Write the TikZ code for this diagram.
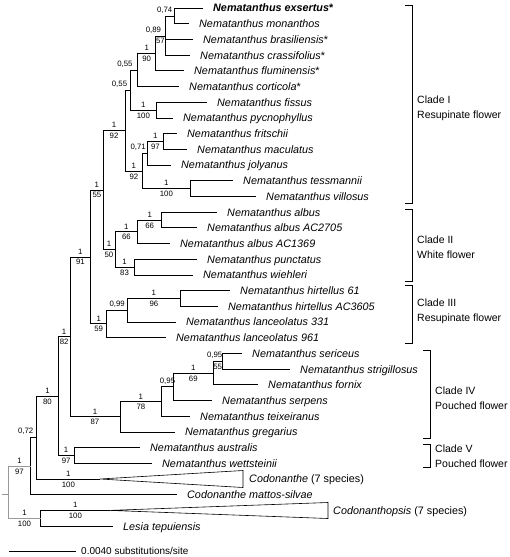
\documentclass[tikz,border=0pt]{standalone}
\usepackage{fontspec}
\setmainfont{Liberation Sans}
\usetikzlibrary{positioning}

\begin{document}
\begin{tikzpicture}[x=1pt, y=-1pt,
  br/.style={line width=0.8pt},
  rootbr/.style={line width=0.8pt, draw=black!40},
  tri/.style={line width=0.6pt},
  brk/.style={line width=0.7pt},
  taxon/.style={anchor=west, inner xsep=10pt, inner ysep=0pt, text height=7.8pt, text depth=0pt, font=\fontsize{10.8}{13}\selectfont\itshape},
  pp/.style={pos=0.75, above, inner sep=2.2pt, font=\fontsize{7.8}{8}\selectfont},
  bs/.style={pos=0.75, below, inner sep=2.2pt, font=\fontsize{7.8}{8}\selectfont},
  clade/.style={anchor=west, align=left, inner sep=0pt, font=\fontsize{10.5}{15}\selectfont}]

  \useasboundingbox (0,0) rectangle (510,557);

  \node[taxon] (exs) at (203,8.0) {\bfseries Nematanthus exsertus\textup{*}};
  \node[taxon] (mon) at (189,23.7) {Nematanthus monanthos};
  \node[taxon] (bra) at (193,39.4) {Nematanthus brasiliensis\textup{*}};
  \node[taxon] (cra) at (190,55.1) {Nematanthus crassifolius\textup{*}};
  \node[taxon] (flu) at (184,70.8) {Nematanthus fluminensis\textup{*}};
  \node[taxon] (cor) at (179,86.5) {Nematanthus corticola\textup{*}};
  \node[taxon] (fis) at (207,102.2) {Nematanthus fissus};
  \node[taxon] (pyc) at (173,117.9) {Nematanthus pycnophyllus};
  \node[taxon] (fri) at (177,133.6) {Nematanthus fritschii};
  \node[taxon] (mac) at (187,149.3) {Nematanthus maculatus};
  \node[taxon] (jol) at (171,165.0) {Nematanthus jolyanus};
  \node[taxon] (tes) at (233,180.7) {Nematanthus tessmannii};
  \node[taxon] (vil) at (256,196.4) {Nematanthus villosus};
  \node[taxon] (alb) at (217,212.1) {Nematanthus albus};
  \node[taxon] (albB) at (197,227.8) {Nematanthus albus AC2705};
  \node[taxon] (albC) at (170,243.5) {Nematanthus albus AC1369};
  \node[taxon] (pun) at (197,259.2) {Nematanthus punctatus};
  \node[taxon] (wie) at (193,274.9) {Nematanthus wiehleri};
  \node[taxon] (hirA) at (230,290.6) {Nematanthus hirtellus 61};
  \node[taxon] (hirB) at (218,306.3) {Nematanthus hirtellus AC3605};
  \node[taxon] (lanA) at (176,322.0) {Nematanthus lanceolatus 331};
  \node[taxon] (lanB) at (166,337.7) {Nematanthus lanceolatus 961};
  \node[taxon] (ser) at (242,353.4) {Nematanthus sericeus};
  \node[taxon] (str) at (290,369.1) {Nematanthus strigillosus};
  \node[taxon] (forn) at (258,384.8) {Nematanthus fornix};
  \node[taxon] (serp) at (212,400.5) {Nematanthus serpens};
  \node[taxon] (tei) at (190,416.2) {Nematanthus teixeiranus};
  \node[taxon] (gre) at (175,431.9) {Nematanthus gregarius};
  \node[taxon] (aus) at (140,447.6) {Nematanthus australis};
  \node[taxon] (wet) at (152,463.3) {Nematanthus wettsteinii};
  \node[taxon, inner xsep=6pt] (cod) at (243,479.0) {Codonanthe \textup{(7 species)}};
  \node[taxon] (mat) at (177,494.7) {Codonanthe mattos-silvae};
  \node[taxon, inner xsep=5pt] (cop) at (328,510.4) {Codonanthopsis \textup{(7 species)}};
  \node[taxon] (les) at (113,526.1) {Lesia tepuiensis};

  \coordinate (nA) at (174.3,15.9);
  \coordinate (nB) at (165,36);
  \coordinate (nC) at (155.7,53.5);
  \coordinate (nD) at (137.7,70);
  \coordinate (nE) at (156.7,110);
  \coordinate (nF) at (130,90);
  \coordinate (nG) at (163,141.5);
  \coordinate (nH) at (147.7,153);
  \coordinate (nI) at (190,188.5);
  \coordinate (nJ) at (142.7,171);
  \coordinate (cI) at (125,130.5);
  \coordinate (nK) at (161.7,220);
  \coordinate (nL) at (137.7,231.8);
  \coordinate (nM) at (134,267);
  \coordinate (cII) at (115,249.5);
  \coordinate (nN) at (103,190);
  \coordinate (nO) at (180,298.5);
  \coordinate (nP) at (127.7,310);
  \coordinate (cIII) at (106.7,323.8);
  \coordinate (nQ) at (90.7,256.9);
  \coordinate (nR) at (222,361.2);
  \coordinate (nS) at (213.3,373);
  \coordinate (nT) at (173.3,386.7);
  \coordinate (nU) at (161.7,401.6);
  \coordinate (cIV) at (120,416.8);
  \coordinate (nV) at (70,336.8);
  \coordinate (cV) at (74,455.5);
  \coordinate (nW) at (58.3,396);
  \coordinate (nX) at (36.7,437.5);
  \coordinate (nY) at (30.7,466);
  \coordinate (nZ) at (40.7,518);
  \coordinate (root) at (8.3,494);
  \coordinate (rootL) at (2,494);

  \coordinate (codA) at (100,479.0);
  \coordinate (codT) at (243,470.5);
  \coordinate (codB) at (243,487.5);
  \coordinate (copA) at (110,510.4);
  \coordinate (copT) at (328,502.5);
  \coordinate (copB) at (328,518.5);

  \draw[br] (nA) |- (exs);
  \draw[br] (nA) |- (mon);
  \draw[br] (nB) |- node[pp, xshift=-5pt]{0,74} (nA);
  \draw[br] (nB) |- (bra);
  \draw[br] (nB) |- (cra);
  \draw[br] (nC) |- node[pp, xshift=-7pt]{0,89} node[bs]{57} (nB);
  \draw[br] (nC) |- (flu);
  \draw[br] (nD) |- node[pp]{1} node[bs]{90} (nC);
  \draw[br] (nD) |- (cor);
  \draw[br] (nF) |- node[pp, xshift=-9pt]{0,55} (nD);
  \draw[br] (nE) |- (fis);
  \draw[br] (nE) |- (pyc);
  \draw[br] (nF) |- node[pp]{1} node[bs]{100} (nE);
  \draw[br] (cI) |- node[pp, xshift=-8pt]{0,55} (nF);
  \draw[br] (nG) |- (fri);
  \draw[br] (nG) |- (mac);
  \draw[br] (nH) |- node[pp]{1} node[bs]{97} (nG);
  \draw[br] (nH) |- (jol);
  \draw[br] (nJ) |- node[pp, xshift=-7pt]{0,71} (nH);
  \draw[br] (nI) |- (tes);
  \draw[br] (nI) |- (vil);
  \draw[br] (nJ) |- node[pp]{1} node[bs]{100} (nI);
  \draw[br] (cI) |- node[pp]{1} node[bs]{92} (nJ);

  \draw[br] (nK) |- (alb);
  \draw[br] (nK) |- (albB);
  \draw[br] (nL) |- node[pp]{1} node[bs]{66} (nK);
  \draw[br] (nL) |- (albC);
  \draw[br] (cII) |- node[pp]{1} node[bs]{66} (nL);
  \draw[br] (nM) |- (pun);
  \draw[br] (nM) |- (wie);
  \draw[br] (cII) |- node[pp]{1} node[bs]{83} (nM);
  \draw[br] (nN) |- node[pp]{1} node[bs]{92} (cI);
  \draw[br] (nN) |- node[pp]{1} node[bs]{50} (cII);
  \draw[br] (nQ) |- node[pp]{1} node[bs]{55} (nN);

  \draw[br] (nO) |- (hirA);
  \draw[br] (nO) |- (hirB);
  \draw[br] (nP) |- node[pp]{1} node[bs]{96} (nO);
  \draw[br] (nP) |- (lanA);
  \draw[br] (cIII) |- node[pp]{0,99} (nP);
  \draw[br] (cIII) |- (lanB);
  \draw[br] (nQ) |- node[pp]{1} node[bs]{59} (cIII);
  \draw[br] (nV) |- node[pp]{1} node[bs]{91} (nQ);

  \draw[br] (nR) |- (ser);
  \draw[br] (nR) |- (str);
  \draw[br] (nS) |- node[pp, xshift=-3pt]{0,95} node[bs]{55} (nR);
  \draw[br] (nS) |- (forn);
  \draw[br] (nT) |- node[pp]{1} node[bs]{69} (nS);
  \draw[br] (nT) |- (serp);
  \draw[br] (nU) |- node[pp]{0,95} (nT);
  \draw[br] (nU) |- (tei);
  \draw[br] (cIV) |- node[pp]{1} node[bs]{78} (nU);
  \draw[br] (cIV) |- (gre);
  \draw[br] (nV) |- node[pp]{1} node[bs]{87} (cIV);
  \draw[br] (nW) |- node[pp]{1} node[bs]{82} (nV);

  \draw[br] (cV) |- (aus);
  \draw[br] (cV) |- (wet);
  \draw[br] (nW) |- node[pp]{1} node[bs]{97} (cV);
  \draw[br] (nX) |- node[pp]{1} node[bs]{80} (nW);
  \draw[br] (nX) |- node[pp]{1} node[bs]{100} (codA);
  \draw[tri] (codA) -- (codT) -- (codB) -- cycle;
  \draw[br] (nY) |- node[pp, xshift=-8pt]{0,72} (nX);
  \draw[br] (nY) |- (mat);
  \draw[br] (nZ) |- node[pp]{1} node[bs]{100} (copA);
  \draw[tri] (copA) -- (copT) -- (copB) -- cycle;
  \draw[br] (nZ) |- (les);
  \draw[rootbr] (rootL) -- (root);
  \draw[rootbr] (root) |- node[pp]{1} node[bs]{97} (nY);
  \draw[rootbr] (root) |- node[pp]{1} node[bs]{100} (nZ);

  \coordinate (bIt) at (412,5);
  \coordinate (bIb) at (412,203);
  \coordinate (bIm) at (412,108);
  \coordinate (bIIt) at (412,209);
  \coordinate (bIIb) at (412,281);
  \coordinate (bIIm) at (412,247);
  \coordinate (bIIIt) at (412,285);
  \coordinate (bIIIb) at (412,343);
  \coordinate (bIIIm) at (412,311);
  \coordinate (bIVt) at (430,350);
  \coordinate (bIVb) at (430,438);
  \coordinate (bIVm) at (430,398);
  \coordinate (bVt) at (430,444);
  \coordinate (bVb) at (430,467);
  \coordinate (bVm) at (430,456);

  \draw[brk] ([xshift=-7pt]bIt) -- (bIt) -- (bIb) -- ([xshift=-7pt]bIb);
  \draw[brk] ([xshift=-7pt]bIIt) -- (bIIt) -- (bIIb) -- ([xshift=-7pt]bIIb);
  \draw[brk] ([xshift=-7pt]bIIIt) -- (bIIIt) -- (bIIIb) -- ([xshift=-7pt]bIIIb);
  \draw[brk] ([xshift=-7pt]bIVt) -- (bIVt) -- (bIVb) -- ([xshift=-7pt]bIVb);
  \draw[brk] ([xshift=-7pt]bVt) -- (bVt) -- (bVb) -- ([xshift=-7pt]bVb);

  \node[clade, right=5pt of bIm] (lI) {Clade I\\Resupinate flower};
  \node[clade, right=5pt of bIIm] (lII) {Clade II\\White flower};
  \node[clade, right=5pt of bIIIm] (lIII) {Clade III\\Resupinate flower};
  \node[clade, right=5pt of bIVm] (lIV) {Clade IV\\Pouched flower};
  \node[clade, right=5pt of bVm] (lV) {Clade V\\Pouched flower};

  \coordinate (sbL) at (9,551);
  \coordinate (sbR) at (76,551);
  \draw[br] (sbL) -- (sbR);
  \node[anchor=west, inner xsep=5pt, font=\fontsize{10}{12}\selectfont] (sbT) at (sbR) {0.0040 substitutions/site};

\end{tikzpicture}
\end{document}
